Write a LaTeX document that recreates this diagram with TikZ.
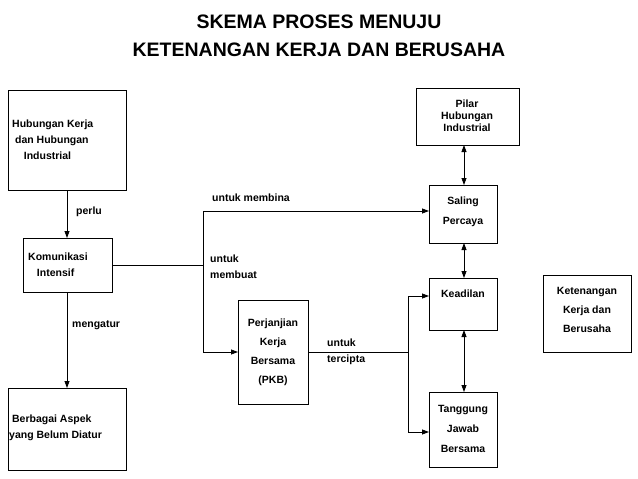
\documentclass[tikz,border=0pt]{standalone}
\usepackage{fontspec}
\setmainfont{Liberation Sans}
\usetikzlibrary{arrows.meta}
\begin{document}
\begin{tikzpicture}[x=1pt,y=-1pt,
  bx/.style={draw,line width=0.8pt,fill=white},
  lb/.style={font=\bfseries\fontsize{10.5}{16}\selectfont,align=left,anchor=west,inner sep=0},
  tx/.style={font=\bfseries\fontsize{10.5}{16}\selectfont,align=center,inner sep=0},
  ar/.style={-{Triangle[length=7pt,width=5pt]},line width=0.8pt},
  da/.style={{Triangle[length=7pt,width=5pt]}-{Triangle[length=7pt,width=5pt]},line width=0.8pt}]
\useasboundingbox (0,0) rectangle (638,479);
\node[font=\bfseries\fontsize{19.5}{28}\selectfont,align=center] (t) at (319,36) {SKEMA PROSES MENUJU\\KETENANGAN KERJA DAN BERUSAHA};
\draw[bx] (8,90) rectangle (126,190);
\node[lb] (hk) at (12,140) {Hubungan Kerja\\\ dan Hubungan\\\ \ \ \ Industrial};
\draw[bx] (23,238) rectangle (112,292);
\node[lb] (ki) at (28,265) {Komunikasi\\\ \ \ Intensif};
\draw[bx] (8,388) rectangle (126,470);
\node[lb] (ba) at (9,428) {\ Berbagai Aspek\\yang Belum Diatur};
\draw[bx] (238,300) rectangle (308,404);
\node[tx,font=\bfseries\fontsize{10.5}{19}\selectfont] (pk) at (273,352) {Perjanjian\\Kerja\\Bersama\\(PKB)};
\draw[bx] (416,88) rectangle (519,145);
\node[tx,font=\bfseries\fontsize{10.5}{12}\selectfont] (pi) at (467,116) {Pilar\\Hubungan\\Industrial};
\draw[bx] (429,185) rectangle (497,243);
\node[tx,font=\bfseries\fontsize{10.5}{20}\selectfont] (sp) at (463,212) {Saling\\Percaya};
\draw[bx] (429,278) rectangle (497,330);
\node[tx] (kd) at (463,294) {Keadilan};
\draw[bx] (429,392) rectangle (497,467);
\node[tx,font=\bfseries\fontsize{10.5}{20}\selectfont] (tj) at (463,429) {Tanggung\\Jawab\\Bersama};
\draw[bx] (543,275) rectangle (631,352);
\node[tx,font=\bfseries\fontsize{10.5}{19}\selectfont] (kt) at (587,310) {Ketenangan\\Kerja dan\\Berusaha};
\coordinate (hkB) at (67,190); \coordinate (kiT) at (67,238);
\coordinate (kiB) at (67,292); \coordinate (baT) at (67,388);
\coordinate (kiR) at (112,265); \coordinate (j1) at (203,265);
\coordinate (spL) at (429,211); \coordinate (pkL) at (238,352);
\coordinate (pkR) at (308,352); \coordinate (j2) at (408,352);
\coordinate (kdL) at (429,296); \coordinate (tjL) at (429,432);
\draw[ar] (hkB) -- (kiT);
\draw[ar] (kiB) -- (baT);
\draw[line width=0.8pt] (kiR) -- (j1);
\draw[ar] (j1) |- (spL);
\draw[ar] (j1) |- (pkL);
\draw[line width=0.8pt] (pkR) -- (j2);
\draw[ar] (j2) |- (kdL);
\draw[ar] (j2) |- (tjL);
\draw[da] (464,145) -- (464,185);
\draw[da] (464,243) -- (464,278);
\draw[da] (464,330) -- (464,392);
\node[lb] (l1) at (76,212) {perlu};
\node[lb] (l2) at (72,325) {mengatur};
\node[lb] (l3) at (212,198) {untuk membina};
\node[lb] (l4) at (210,267) {untuk\\membuat};
\node[lb] (l5) at (327,352) {untuk\\tercipta};
\end{tikzpicture}
\end{document}
